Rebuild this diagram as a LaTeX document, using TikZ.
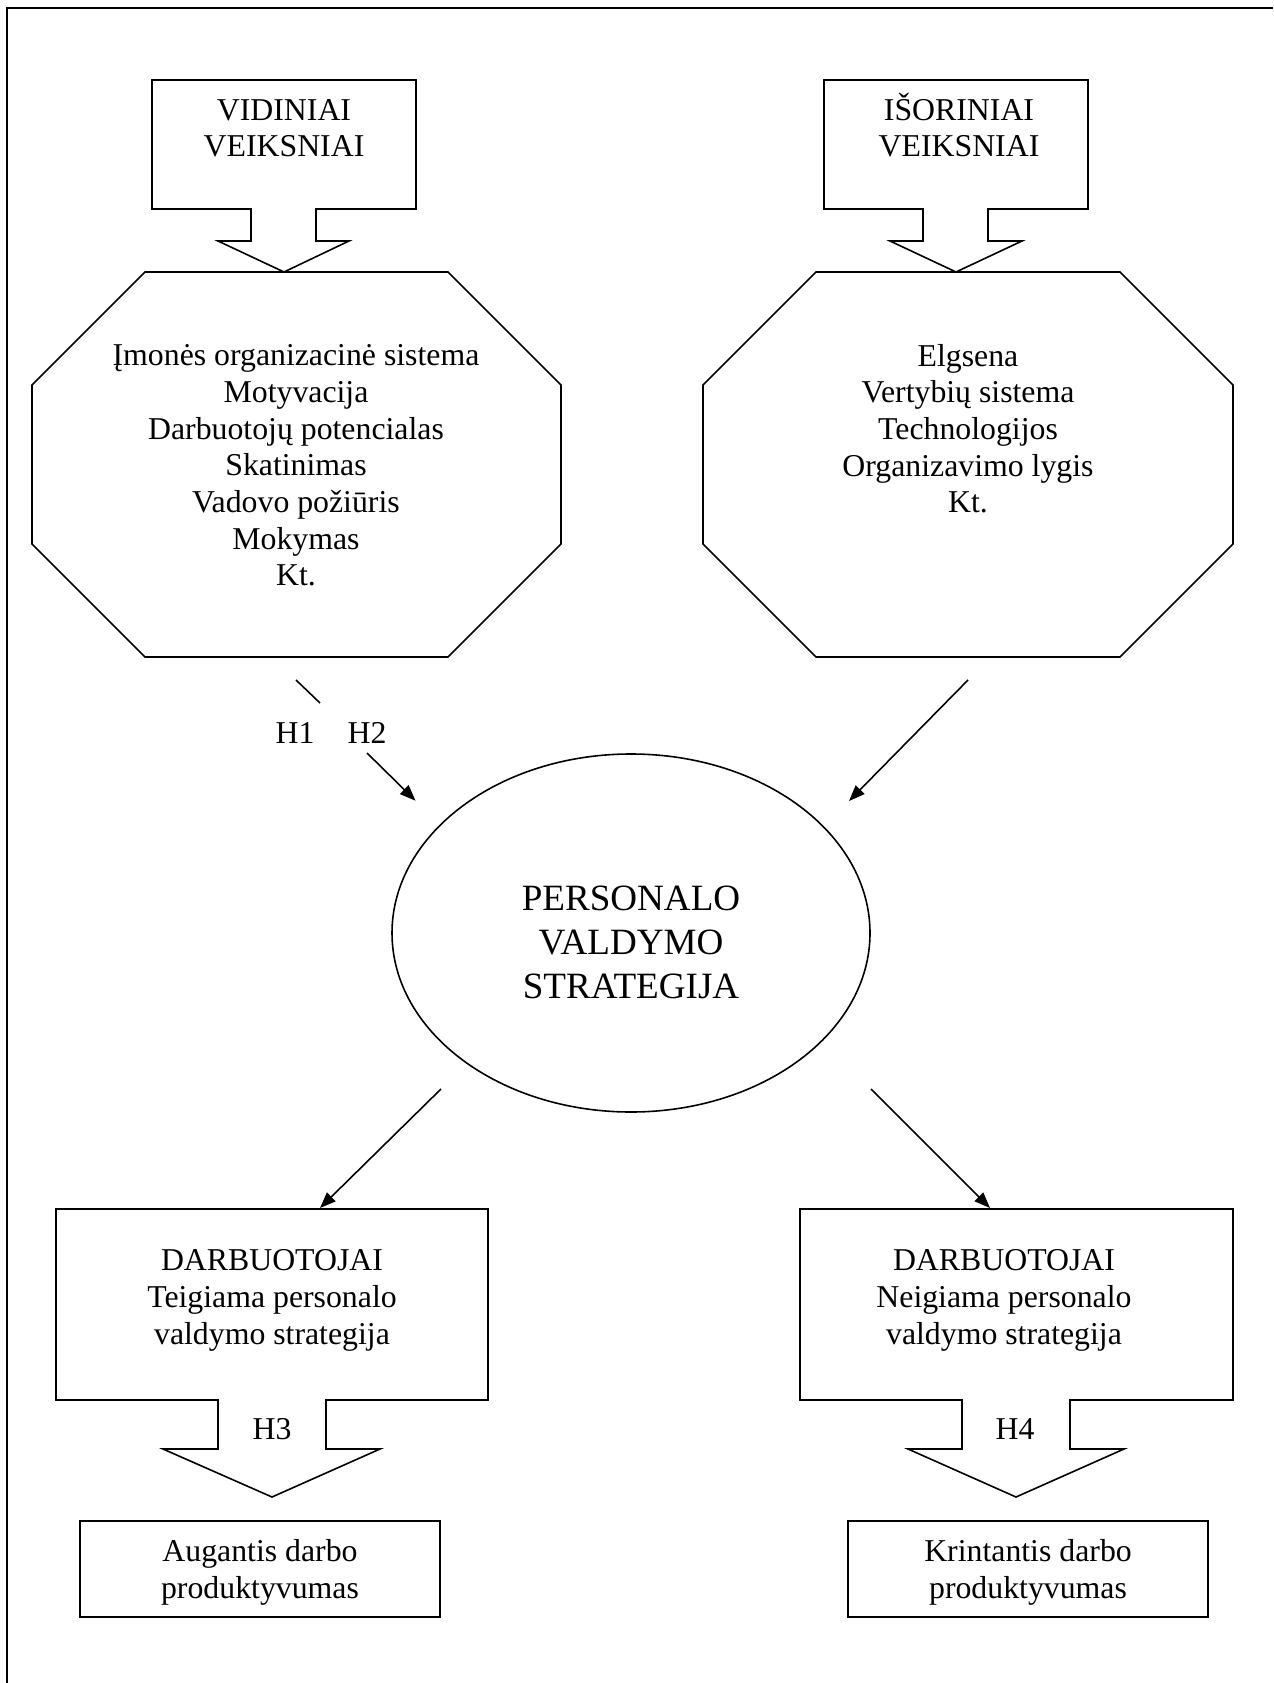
\documentclass[tikz,border=0pt]{standalone}
\usepackage{fontspec}
\setmainfont{Liberation Serif}
\usetikzlibrary{arrows.meta}
\begin{document}
\begin{tikzpicture}[x=0.3774pt,y=-0.3774pt,
  outline/.style={draw=black, line width=0.6pt, line join=miter},
  body/.style={align=center, inner sep=0pt, font=\fontsize{12}{13.84}\selectfont},
  big/.style={align=center, inner sep=0pt, font=\fontsize{14}{16.6}\selectfont},
  link/.style={draw=black, line width=0.6pt},
  arr/.style={link, -{Triangle[length=6pt,width=4.6pt]}}]
\useasboundingbox (0,0) rectangle (1273,1683);

% page frame: top and left rules
\draw[line width=0.75pt] (1273,8) -- (7,8) -- (7,1683);

% factor callouts (text nodes are placed by the baseline of their last line)
\draw[outline] (152,80) -- (416,80) -- (416,209) -- (316,209) -- (316,241) -- (349,241)
  -- (284,272) -- (218,241) -- (251,241) -- (251,209) -- (152,209) -- cycle;
\draw[outline] (824,80) -- (1088,80) -- (1088,209) -- (988,209) -- (988,241) -- (1022,241)
  -- (956,272) -- (890,241) -- (923,241) -- (923,209) -- (824,209) -- cycle;
\node[body, anchor=base] (vidT) at (284,157) {VIDINIAI\\VEIKSNIAI};
\node[body, anchor=base] (isoT) at (959,157) {IŠORINIAI\\VEIKSNIAI};

% octagons with factor lists
\draw[outline] (145,272) -- (448,272) -- (561,385) -- (561,544) -- (448,657) -- (145,657)
  -- (32,544) -- (32,385) -- cycle;
\draw[outline] (816,272) -- (1120,272) -- (1233,385) -- (1233,544) -- (1120,657) -- (816,657)
  -- (703,544) -- (703,385) -- cycle;
\node[body, anchor=base] (vidL) at (296,586) {Įmonės organizacinė sistema\\Motyvacija\\Darbuotojų potencialas\\Skatinimas\\Vadovo požiūris\\Mokymas\\Kt.};
\node[body, anchor=base] (isoL) at (968,513) {Elgsena\\Vertybių sistema\\Technologijos\\Organizavimo lygis\\Kt.};

% strategy ellipse
\draw[outline] (631,933) ellipse [x radius=239, y radius=179];
\node[big, anchor=base] (stratT) at (631,998) {PERSONALO\\VALDYMO\\STRATEGIJA};

% hypothesis labels
\node[body, anchor=base] (h1) at (295,743) {H1};
\node[body, anchor=base] (h2) at (367,743) {H2};

% connector ends
\coordinate (hA) at (296,680);
\coordinate (hB) at (320,703);
\coordinate (hC) at (367,753);
\coordinate (hD) at (415.5,800.7);
\coordinate (rA) at (968,680);
\coordinate (rB) at (849,801);
\coordinate (pA) at (441,1089);
\coordinate (pB) at (320,1208);
\coordinate (nA) at (871,1089);
\coordinate (nB) at (990,1208);

\draw[link] (hA) -- (hB);
\draw[arr] (hC) -- (hD);
\draw[arr] (rA) -- (rB);
\draw[arr] (pA) -- (pB);
\draw[arr] (nA) -- (nB);

% employee callouts
\draw[outline] (56,1209) -- (488,1209) -- (488,1400) -- (326,1400) -- (326,1449) -- (380,1449)
  -- (272,1497) -- (163,1449) -- (218,1449) -- (218,1400) -- (56,1400) -- cycle;
\draw[outline] (800,1209) -- (1233,1209) -- (1233,1400) -- (1070,1400) -- (1070,1449) -- (1124,1449)
  -- (1016,1497) -- (908,1449) -- (962,1449) -- (962,1400) -- (800,1400) -- cycle;
\node[body, anchor=base] (posT) at (272,1344) {DARBUOTOJAI\\Teigiama personalo\\valdymo strategija};
\node[body, anchor=base] (negT) at (1004,1344) {DARBUOTOJAI\\Neigiama personalo\\valdymo strategija};
\node[body, anchor=base] (h3) at (272,1439) {H3};
\node[body, anchor=base] (h4) at (1015,1439) {H4};

% productivity outcomes
\draw[outline] (80,1521) rectangle (440,1617);
\draw[outline] (848,1521) rectangle (1208,1617);
\node[body, anchor=base] (upT) at (260,1598) {Augantis darbo\\produktyvumas};
\node[body, anchor=base] (downT) at (1028,1598) {Krintantis darbo\\produktyvumas};
\end{tikzpicture}
\end{document}
